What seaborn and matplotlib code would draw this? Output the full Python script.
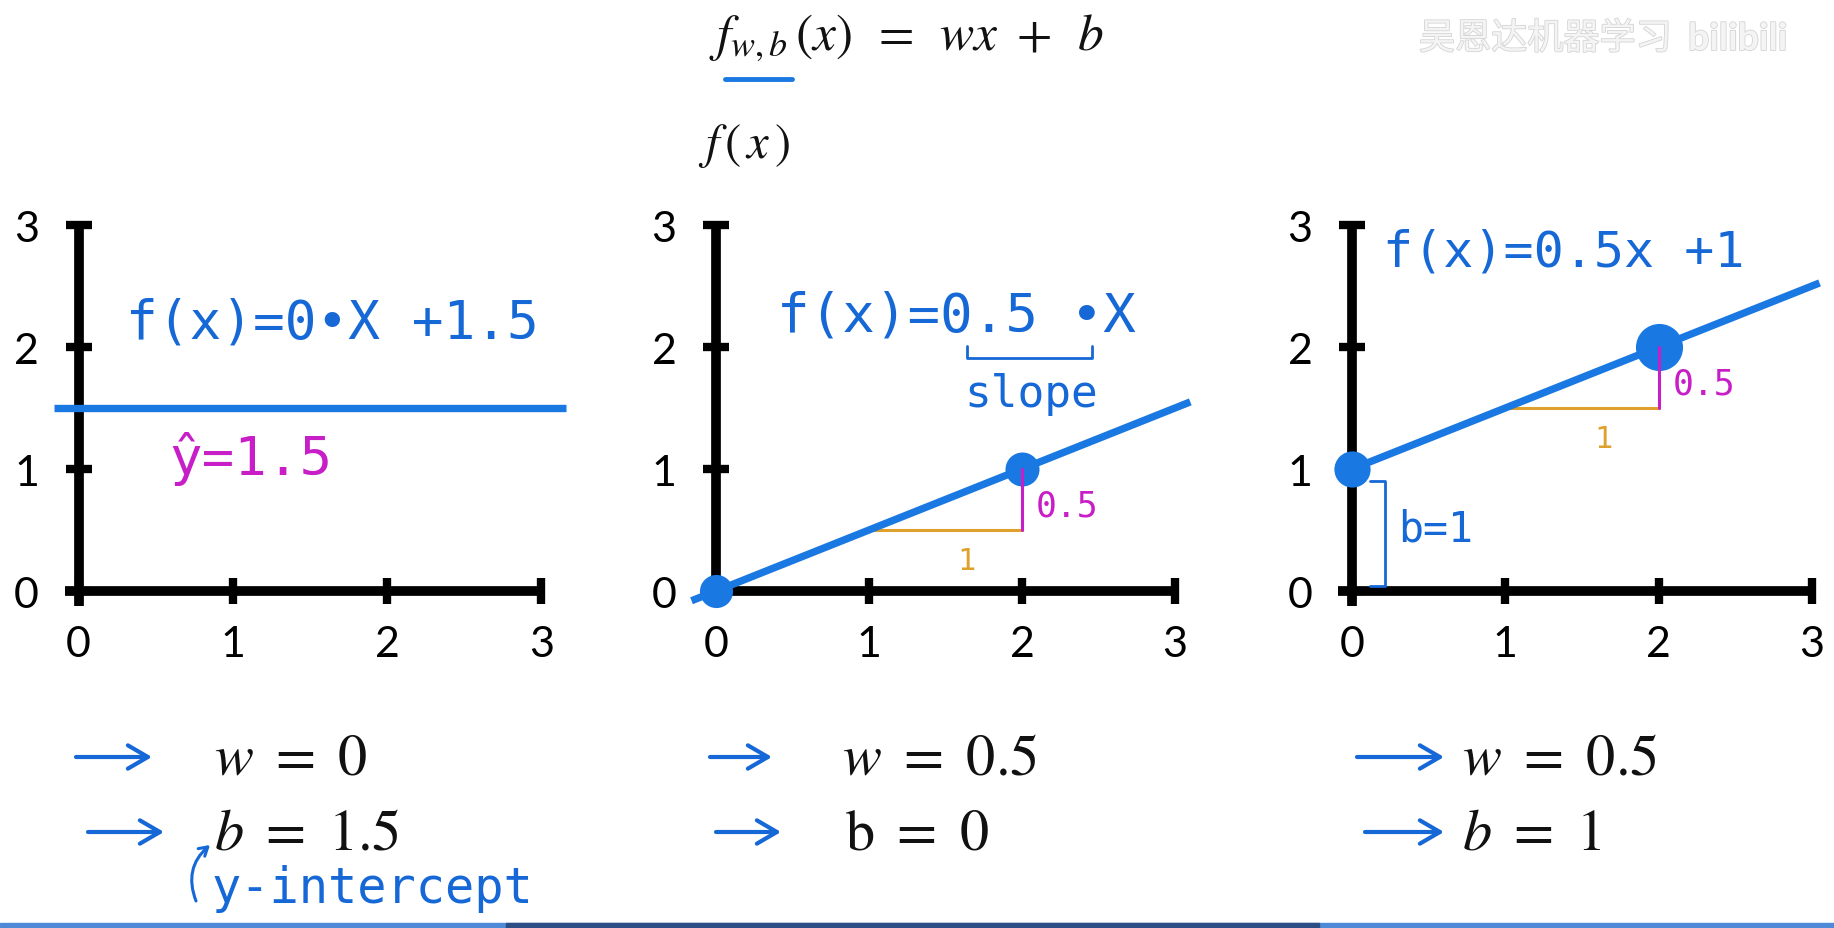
import matplotlib
matplotlib.use("Agg")
import matplotlib.pyplot as plt
import matplotlib.patheffects as pe
from matplotlib.patches import Rectangle
from matplotlib.lines import Line2D
import numpy as np
import pandas as pd
import seaborn as sns

# ---- model parameters for the three panels ----
weights = [0, 0.5, 0.5]
biases = [1.5, 0, 1]
# horizontal extent of each drawn line
line_x_start = [-0.16, -0.16, 0.0]
line_x_end = [3.16, 3.1, 3.05]
# highlighted inputs on each line
point_x = [[], [0, 2], [0, 2]]
point_sizes = [[], [570, 600], [680, 1150]]
# handwritten equations written on each panel
equations = ["f(x)=0•X +1.5", "f(x)=0.5 •X", "f(x)=0.5x +1"]
equation_pos = [(0.31, 2.2), (0.4, 2.26), (0.2, 2.78)]
equation_size = [38, 39, 36]
# rise/run triangle (start and end of the run), panels without one use None
slope_run = [None, (1, 2), (1, 2)]
tick_values = [0, 1, 2, 3]
tick_labels = ["0", "1", "2", "3"]

W, H = 1834, 929
INK = "#1668d6"
LINE = "#1a78e2"
MAGENTA = "#c81ec8"
ORANGE = "#e0a02c"
HAND = dict(family=["DejaVu Sans Mono", "DejaVu Sans"])

sns.set_theme(style="white")
plt.rcParams["font.family"] = ["Lato", "DejaVu Sans"]
plt.rcParams["mathtext.fontset"] = "stix"

fig = plt.figure(figsize=(W / 100, H / 100), dpi=100)
fig.patch.set_facecolor("white")


def fx(px):
    return px / W


def fy(py):
    return 1 - py / H


# pixel origin and unit sizes of the three coordinate systems
origins_x = [78.5, 716, 1352]
units_x = [154.3, 153.0, 153.3]
origin_y, unit_y = 592, 122.0
xlim = (-0.35, 3.35)
ylim = (-0.35, 3.3)

axes = []
for i in range(3):
    left = origins_x[i] + xlim[0] * units_x[i]
    width = (xlim[1] - xlim[0]) * units_x[i]
    bottom = H - (origin_y - ylim[0] * unit_y)
    height = (ylim[1] - ylim[0]) * unit_y
    ax = fig.add_axes([left / W, bottom / H, width / W, height / H])
    ax.set_facecolor("none")
    ax.set_xlim(*xlim)
    ax.set_ylim(*ylim)
    for side in ["top", "right"]:
        ax.spines[side].set_visible(False)
    ax.spines["left"].set_position(("data", 0))
    ax.spines["bottom"].set_position(("data", 0))
    ax.spines["left"].set_bounds(-0.12, 3)
    ax.spines["bottom"].set_bounds(-0.09, 3)
    for s in ["left", "bottom"]:
        ax.spines[s].set_linewidth(7)
        ax.spines[s].set_color("black")
        ax.spines[s].set_capstyle("butt")
    ax.set_xticks(tick_values, tick_labels)
    ax.set_yticks(tick_values, tick_labels)
    ax.tick_params(bottom=True, left=True, direction="inout", length=19,
                   width=6, labelsize=31, colors="black")
    ax.tick_params(axis="y", pad=19)
    ax.tick_params(axis="x", pad=15)

    w, b = weights[i], biases[i]
    xs = np.array([line_x_start[i], line_x_end[i]])
    df = pd.DataFrame({"x": xs, "y": w * xs + b})
    sns.lineplot(data=df, x="x", y="y", ax=ax, color=LINE, linewidth=5.3,
                 solid_capstyle="butt", zorder=3)

    for px, ps in zip(point_x[i], point_sizes[i]):
        sns.scatterplot(x=[px], y=[w * px + b], ax=ax, s=ps, color=LINE,
                        edgecolor=LINE, linewidth=0, zorder=4, clip_on=False)

    if slope_run[i] is not None:
        x1, x2 = slope_run[i]
        y1, y2 = w * x1 + b, w * x2 + b
        ax.plot([x1, x2], [y1, y1], color=ORANGE, lw=2.2, zorder=2)
        ax.plot([x2, x2], [y1, y2], color=MAGENTA, lw=2.2, zorder=5)
        ax.text(x2 + 0.09, (y1 + y2) / 2 - 0.05, f"{w:g}", color=MAGENTA,
                fontsize=25, ha="left", va="center", **HAND)
        ax.text((x1 + x2) / 2 + 0.14, y1 - 0.25, f"{x2 - x1:g}", color=ORANGE,
                fontsize=22, ha="center", va="center", **HAND)

    ex, ey = equation_pos[i]
    ax.text(ex, ey, equations[i], color=INK, fontsize=equation_size[i],
            ha="left", va="center", **HAND)
    ax.set_xlabel("")
    ax.set_ylabel("")
    axes.append(ax)

ax1, ax2, ax3 = axes

# handwritten notes
ax1.text(0.59, 1.09, f"ŷ={biases[0]:g}", color=MAGENTA, fontsize=39,
         ha="left", va="center", **HAND)

ax2.annotate("", xy=(1.64, 2.01), xytext=(2.46, 2.01),
             arrowprops=dict(arrowstyle="-", color=INK, lw=2,
                             shrinkA=0, shrinkB=0,
                             connectionstyle="bar,fraction=-0.1"))
ax2.text(2.06, 1.62, "slope", color=INK, fontsize=32, ha="center",
         va="center", **HAND)

ax3.annotate("", xy=(0.12, 0.9), xytext=(0.12, 0.04),
             arrowprops=dict(arrowstyle="-", color=INK, lw=2,
                             shrinkA=0, shrinkB=0,
                             connectionstyle="bar,fraction=0.14"))
ax3.text(0.3, 0.51, f"b={biases[2]:g}", color=INK, fontsize=30, ha="left",
         va="center", **HAND)

# header formulas
fig.text(fx(709), fy(38), r"$f_{w,b}\,(x)\ \,=\ \,wx\ +\ \,b$", fontsize=37,
         ha="left", va="center", color="#111111")
fig.add_artist(Line2D([fx(725), fx(792)], [fy(80), fy(80)], color=LINE,
                      lw=3.5, transform=fig.transFigure))
fig.text(fx(698), fy(146), r"$f\,(\,x\,)$", fontsize=35, ha="left",
         va="center", color="#111111")

# parameter summary under each panel
row_y = [758, 833]
text_left = [(214, 214), (842, 845), (1462, 1462)]
arrows = [((76, 152), (88, 164)), ((710, 772), (716, 781)),
          ((1357, 1444), (1365, 1444))]
b_fmt = [r"b", r"\mathrm{b}", r"b"]
for i in range(3):
    fig.text(fx(text_left[i][0]), fy(row_y[0]), rf"$w\ =\ {weights[i]:g}$",
             fontsize=42, ha="left", va="center", color="#111111")
    fig.text(fx(text_left[i][1]), fy(row_y[1]),
             rf"${b_fmt[i]}\ =\ {biases[i]:g}$",
             fontsize=42, ha="left", va="center", color="#111111")
    for (xa, xb), ry in zip(arrows[i], row_y):
        ax1.annotate("", xy=(fx(xb), fy(ry)), xycoords="figure fraction",
                     xytext=(fx(xa), fy(ry)), textcoords="figure fraction",
                     arrowprops=dict(arrowstyle="->,head_length=1.2,head_width=0.7",
                                     color=INK, lw=3, shrinkA=0, shrinkB=0),
                     annotation_clip=False)

ax1.annotate("", xy=(fx(210), fy(846)), xycoords="figure fraction",
             xytext=(fx(196), fy(902)), textcoords="figure fraction",
             arrowprops=dict(arrowstyle="->,head_length=0.5,head_width=0.3",
                             color=INK, lw=2.2, shrinkA=0, shrinkB=0,
                             connectionstyle="arc3,rad=-0.35"),
             annotation_clip=False)
fig.text(fx(212), fy(889), "y-intercept", color=INK, fontsize=35,
         ha="left", va="center", **HAND)

# channel watermark
faint = dict(color="#f4f4f4",
             path_effects=[pe.withStroke(linewidth=1.2, foreground="#d4d4d4")])
fig.text(fx(1419), fy(40), "吴恩达机器学习", fontsize=26, ha="left",
         va="center", family=["Noto Sans CJK SC", "DejaVu Sans"], **faint)
fig.text(fx(1688), fy(40), "bilibili", fontsize=27, ha="left",
         va="center", fontweight="bold", **faint)

# progress strip along the bottom edge
fig.add_artist(Rectangle((0, 0), 1, 5 / H, transform=fig.transFigure,
                         color="#4f8ad8", zorder=10))
fig.add_artist(Rectangle((fx(506), 0), fx(1319) - fx(506), 5 / H,
                         transform=fig.transFigure, color="#2c4d86", zorder=11))

fig.savefig("out.png", dpi=100, facecolor="white")
